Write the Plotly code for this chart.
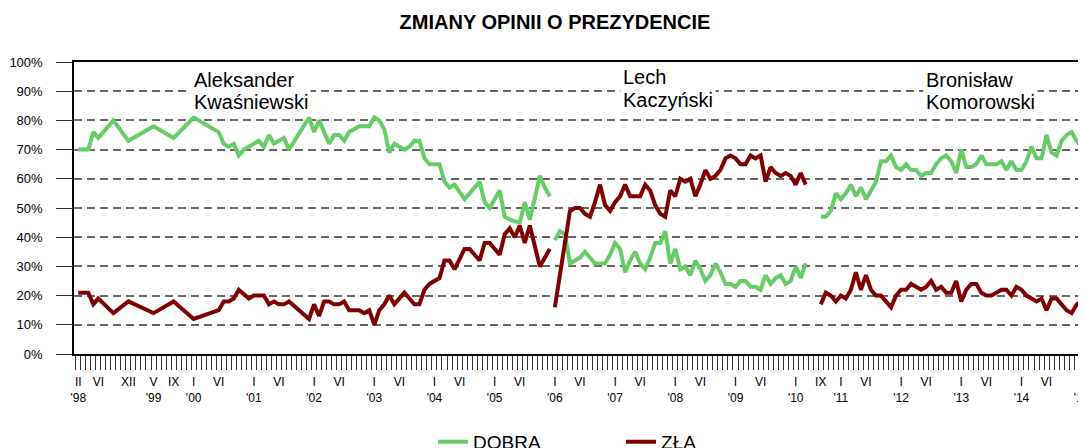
import plotly.graph_objects as go

# ---- axis categories (survey months; VI-VIII 2010 absent between presidents) ----
categories = []
for yr in range(1998, 2016):
    for mo in range(1, 13):
        if (yr, mo) < (1998, 2) or (yr, mo) > (2015, 3):
            continue
        if yr == 2010 and mo in (6, 7, 8):
            continue
        categories.append(f"{yr}-{mo:02d}")

tick_months = ["1998-02", "1998-06", "1998-12", "1999-05", "1999-09",
               "2000-01", "2000-06", "2001-01", "2001-06", "2002-01", "2002-06",
               "2003-01", "2003-06", "2004-01", "2004-06", "2005-01", "2005-06",
               "2006-01", "2006-06", "2007-01", "2007-06", "2008-01", "2008-06",
               "2009-01", "2009-06", "2010-01", "2010-09", "2011-01", "2011-06",
               "2012-01", "2012-06", "2013-01", "2013-06", "2014-01", "2014-06",
               "2015-01"]
tick_labels = ["II<br>'98", "VI", "XII", "V<br>'99", "IX",
               "I<br>'00", "VI", "I<br>'01", "VI", "I<br>'02", "VI",
               "I<br>'03", "VI", "I<br>'04", "VI", "I<br>'05", "VI",
               "I<br>'06", "VI", "I<br>'07", "VI", "I<br>'08", "VI",
               "I<br>'09", "VI", "I<br>'10", "IX", "I<br>'11", "VI",
               "I<br>'12", "VI", "I<br>'13", "VI", "I<br>'14", "VI",
               "I<br>'15"]

y_ticks = [0, 10, 20, 30, 40, 50, 60, 70, 80, 90, 100]
y_labels = ["0%", "10%", "20%", "30%", "40%", "50%", "60%", "70%", "80%", "90%", "100%"]

# ---- Aleksander Kwaśniewski ----
kwas_months = ["1998-02", "1998-04", "1998-05", "1998-06", "1998-09", "1998-12",
               "1999-05", "1999-09", "2000-01", "2000-06", "2000-07", "2000-08",
               "2000-09", "2000-10", "2000-11", "2000-12", "2001-01", "2001-02",
               "2001-03", "2001-04", "2001-05", "2001-06", "2001-07", "2001-08",
               "2001-12", "2002-01", "2002-02", "2002-03", "2002-04", "2002-05",
               "2002-06", "2002-07", "2002-08", "2002-10", "2002-11", "2002-12",
               "2003-01", "2003-02", "2003-03", "2003-04", "2003-05", "2003-06",
               "2003-07", "2003-08", "2003-09", "2003-10", "2003-11", "2003-12",
               "2004-02", "2004-03", "2004-04", "2004-05", "2004-07", "2004-08",
               "2004-10", "2004-11", "2004-12", "2005-02", "2005-03", "2005-04",
               "2005-05", "2005-06", "2005-07", "2005-08", "2005-10", "2005-11",
               "2005-12"]
kwas_dobra = [70, 70, 76, 74, 80, 73,
              78, 74, 81, 76, 72, 71,
              72, 68, 70, None, None, 73,
              71, 75, 72, None, 74, 70,
              81, 76, 80, None, 72, 75,
              75, 73, 76, 78, None, 78,
              81, 80, 77, 69, 72, 71,
              70, 71, 73, 73, 67, 65,
              65, 59, 57, 58, 53, 55,
              59, 52, 50, 56, 47, 46,
              None, 45, 52, 46, 61, 57,
              54]
kwas_zla = [21, 21, 17, 19, 14, 18,
            14, 18, 12, 15, 18, 18,
            19, 22, None, 19, 20, None,
            20, 17, 18, 17, 17, 18,
            12, 17, 13, 18, 18, 17,
            17, 18, 15, 15, 14, 15,
            10, 15, 17, 20, 17, 19,
            21, 19, 17, 17, 22, 24,
            26, 32, 32, 29, 36, 36,
            32, 38, 38, 34, 41, 43,
            40, 44, 38, 44, 30, None,
            36]

# ---- Lech Kaczyński ----
kacz_months = ["2006-01", "2006-02", "2006-03", "2006-04", "2006-05", "2006-06",
               "2006-07", "2006-08", "2006-09", "2006-10", "2006-11", "2006-12",
               "2007-01", "2007-02", "2007-03", "2007-04", "2007-05", "2007-06",
               "2007-07", "2007-08", "2007-09", "2007-10", "2007-11", "2007-12",
               "2008-01", "2008-02", "2008-03", "2008-04", "2008-05", "2008-06",
               "2008-07", "2008-08", "2008-09", "2008-10", "2008-11", "2008-12",
               "2009-01", "2009-02", "2009-03", "2009-04", "2009-05", "2009-06",
               "2009-07", "2009-08", "2009-09", "2009-10", "2009-11", "2009-12",
               "2010-01", "2010-02", "2010-03"]
kacz_dobra = [39, 42, 41, 31, 32, 33, 35, 33, 31, 31, 31, 34,
              38, 36, 28, 32, 35, 31, 29, 33, 38, 38, 42, 31,
              36, 29, 30, 27, 32, 29, 25, 27, 31, 28, 24, 24,
              23, 25, 25, 23, 23, 22, 27, 24, 26, 27, 24, 25,
              30, 26, 31]
kacz_zla = [16, None, None, 49, 50, 50, 48, 47, 52, 58, 51, 49,
            52, 54, 58, 54, 54, 54, 58, 56, 51, 48, 47, 56,
            54, 60, 59, 60, 54, 58, 63, 60, 61, 63, 67, 68,
            67, 65, 65, 68, 67, 68, 59, 64, 62, 61, 62, 61,
            58, 62, 58]

# ---- Bronisław Komorowski ----
komo_months = ["2010-09", "2010-10", "2010-11", "2010-12",
               "2011-01", "2011-02", "2011-03", "2011-04", "2011-05", "2011-06",
               "2011-07", "2011-08", "2011-09", "2011-10", "2011-11", "2011-12",
               "2012-01", "2012-02", "2012-03", "2012-04", "2012-05", "2012-06",
               "2012-07", "2012-08", "2012-09", "2012-10", "2012-11", "2012-12",
               "2013-01", "2013-02", "2013-03", "2013-04", "2013-05", "2013-06",
               "2013-07", "2013-08", "2013-09", "2013-10", "2013-11", "2013-12",
               "2014-01", "2014-02", "2014-03", "2014-04", "2014-05", "2014-06",
               "2014-07", "2014-08", "2014-09", "2014-10", "2014-11", "2014-12",
               "2015-01", "2015-02"]
komo_dobra = [47, 47, 49, 55,
              53, 55, 58, 54, 57, 53, 56, 59, 66, 66, 68, 64,
              63, 65, 63, 63, 61, 62, 62, 65, 67, 68, 66, 62,
              70, 64, 64, 65, 68, 65, 65, 65, 66, 63, 66, 63,
              63, 66, 71, 67, 67, 75, 69, 68, 73, 75, 76, 73,
              71, 70]
komo_zla = [17, 21, 20, 18,
            20, 19, 22, 28, 22, 27, 22, 20, 20, 18, 16, 20,
            22, 22, 24, 23, 22, 23, 25, 22, 23, 21, 21, 25,
            18, 22, 24, 24, 21, 20, 20, 21, 22, 22, 20, 23,
            22, 20, 19, 18, 19, 15, 19, 19, 17, 15, 14, 17,
            18, 24]

president_first = ["Aleksander", "Lech", "Bronisław"]
president_last = ["Kwaśniewski", "Kaczyński", "Komorowski"]
series = [
    (kwas_months, kwas_dobra, kwas_zla),
    (kacz_months, kacz_dobra, kacz_zla),
    (komo_months, komo_dobra, komo_zla),
]

GREEN = "#66CC66"
RED = "#800000"
FONT = "Liberation Sans, Arial, sans-serif"

fig = go.Figure()
for k, (mths, dob, zla) in enumerate(series):
    fig.add_trace(go.Scatter(x=mths, y=dob, mode="lines", name="DOBRA",
                             legendgroup="dobra", showlegend=(k == 0),
                             connectgaps=True,
                             line=dict(color=GREEN, width=4)))
for k, (mths, dob, zla) in enumerate(series):
    fig.add_trace(go.Scatter(x=mths, y=zla, mode="lines", name="ZŁA",
                             legendgroup="zla", showlegend=(k == 0),
                             connectgaps=True,
                             line=dict(color=RED, width=4)))

label_map = dict(zip(tick_months, tick_labels))
ticktext = [label_map.get(c, "") for c in categories]

fig.update_xaxes(
    type="category", categoryorder="array", categoryarray=categories,
    range=[-0.85, 202.46], automargin=False,
    tickmode="array", tickvals=categories, ticktext=ticktext,
    tickson="boundaries", ticks="outside", ticklen=14, tickwidth=1,
    tickcolor="#333333", tickangle=0, ticklabelstandoff=16,
    tickfont=dict(family=FONT, size=12, color="#000000"),
    showgrid=False, showline=True, linecolor="#000000", linewidth=1.5,
    mirror=True, zeroline=False,
)
fig.update_yaxes(
    range=[0, 100], automargin=False,
    tickmode="array", tickvals=y_ticks, ticktext=y_labels,
    ticks="outside", ticklen=16, tickcolor="#333333",
    tickwidth=1, ticklabelstandoff=11,
    tickfont=dict(family=FONT, size=13, color="#000000"),
    showgrid=True, gridcolor="#666666", gridwidth=1.5, griddash="8px,5px",
    showline=True, linecolor="#000000", linewidth=1.5, zeroline=False,
)

# name labels: (box-left paper x, first line paper y, second line paper y)
annot_x = [0.1147, 0.5353, 0.8324]
annot_y1 = [0.938, 0.949, 0.938]
annot_y2 = [0.863, 0.870, 0.863]
for first, last, ax_, y1, y2 in zip(president_first, president_last,
                                    annot_x, annot_y1, annot_y2):
    for txt, yy in ((first, y1), (last, y2)):
        fig.add_annotation(text=txt, xref="paper", yref="paper", x=ax_, y=yy,
                           xanchor="left", yanchor="middle", align="left",
                           showarrow=False, bgcolor="#FFFFFF", borderpad=2,
                           font=dict(family=FONT, size=20, color="#000000"))

fig.update_layout(
    width=1086, height=448,
    margin=dict(l=66, r=0, t=54, b=102, autoexpand=False),
    paper_bgcolor="#FFFFFF", plot_bgcolor="#FFFFFF",
    title=dict(text="<b>ZMIANY OPINII O PREZYDENCIE</b>", x=547 / 1086,
               xanchor="center", y=1 - 14 / 448, yanchor="middle",
               font=dict(family=FONT, size=20, color="#000000")),
    legend=dict(orientation="h", x=0.352, xanchor="left", y=-0.301,
                yanchor="middle", entrywidth=143, entrywidthmode="pixels",
                font=dict(family=FONT, size=19, color="#000000"),
                bgcolor="rgba(0,0,0,0)"),
    showlegend=True,
)

fig.write_html("out.html")
